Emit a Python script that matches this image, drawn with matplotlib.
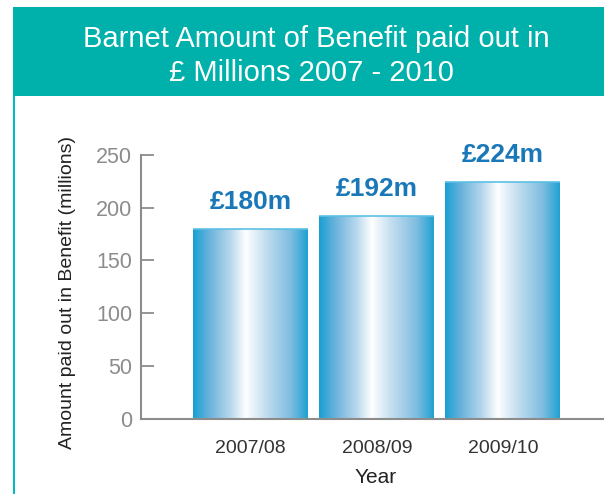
import numpy as np
import matplotlib
matplotlib.use("Agg")
import matplotlib.pyplot as plt
from matplotlib.patches import Rectangle
from matplotlib.colors import LinearSegmentedColormap

plt.rcParams['font.family'] = ['Liberation Sans', 'DejaVu Sans']

years = ["2007/08", "2008/09", "2009/10"]
benefit = [180, 192, 224]
value_labels = ["£180m", "£192m", "£224m"]
y_ticks = [0, 50, 100, 150, 200, 250]

W, H = 604, 494
fig = plt.figure(figsize=(W / 100, H / 100), dpi=100)
fig.patch.set_facecolor("white")

teal = "#00b0ab"
# header band and left frame line
fig.patches.append(Rectangle((13 / W, 1 - 96 / H), 1 - 13 / W, 89 / H,
                             transform=fig.transFigure, facecolor=teal,
                             edgecolor="none", zorder=0))
fig.patches.append(Rectangle((12.5 / W, 0), 2.5 / W, 1 - 96 / H,
                             transform=fig.transFigure, facecolor="#00bcc4",
                             edgecolor="none", zorder=0))
fig.text(316 / W, 1 - 39 / H, "Barnet Amount of Benefit paid out in",
         ha="center", va="center", color="white", fontsize=21)
fig.text(311 / W, 1 - 73 / H, "£ Millions 2007 - 2010",
         ha="center", va="center", color="white", fontsize=21)

# plot area
left, right = 140.7, 604
top, bottom = 155, 418.7
ax = fig.add_axes([left / W, 1 - bottom / H, (right - left) / W, (bottom - top) / H])
ax.set_facecolor("none")

x = np.arange(len(years))
bars = ax.bar(x, benefit, width=0.91, color="none", edgecolor="none")
ax.set_xlim(-0.872, 2.802)
ax.set_ylim(0, 250)

# horizontal blue-white-blue gradient inside each bar
grad_cmap = LinearSegmentedColormap.from_list(
    "barfill",
    [(0.0, "#18a0d2"), (0.15, "#6fb4dc"), (0.32, "#b5d6ec"),
     (0.46, "#ffffff"), (0.62, "#c7e0f0"), (0.85, "#7fbde0"),
     (1.0, "#20a2d2")])
grad = np.linspace(0, 1, 256).reshape(1, -1)
for rect in bars:
    x0, y0 = rect.get_x(), rect.get_y()
    w, h = rect.get_width(), rect.get_height()
    im = ax.imshow(grad, cmap=grad_cmap, aspect="auto",
                   extent=(x0, x0 + w, y0, y0 + h), zorder=2,
                   interpolation="bilinear")
    im.set_clip_path(rect)
    ax.plot([x0, x0 + w], [y0 + h, y0 + h], color="#5cc0e4", lw=1.2,
            zorder=3, solid_capstyle="butt")

for xi, v, lab in zip(x, benefit, value_labels):
    ax.annotate(lab, (xi, v), xytext=(0, 19.5), textcoords="offset points",
                ha="center", va="center", color="#1a78b8",
                fontsize=19, fontweight="bold")

ax.set_xticks(x)
ax.set_xticklabels(years, fontsize=14, color="#333333")
ax.set_yticks(y_ticks)
ax.set_yticklabels([str(t) for t in y_ticks], fontsize=15.5, color="#8c8c8c")
ax.tick_params(axis="y", direction="in", length=9, width=1.3, color="#8c8c8c", pad=6)
ax.tick_params(axis="x", length=0, pad=15)

for s in ("top", "right"):
    ax.spines[s].set_visible(False)
for s in ("left", "bottom"):
    ax.spines[s].set_color("#8c8c8c")
    ax.spines[s].set_linewidth(1.5)

fig.text(376 / W, 1 - 477 / H, "Year", ha="center", va="center",
         fontsize=15, color="#222222")
fig.text(68 / W, 1 - 292 / H, "Amount paid out in Benefit (millions)",
         ha="center", va="center", rotation=90, fontsize=14, color="#222222")

fig.savefig("out.png", dpi=100, facecolor="white")
